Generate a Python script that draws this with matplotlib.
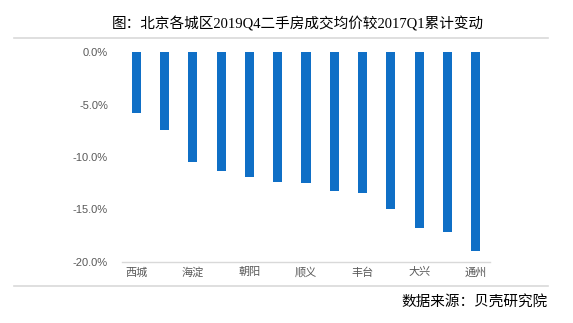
import matplotlib
matplotlib.use("Agg")
import matplotlib.pyplot as plt
from matplotlib.lines import Line2D
from matplotlib.ticker import FuncFormatter

# -- Data --------------------------------------------------------------------
districts = ['西城', '东城', '海淀', '石景山', '朝阳', '昌平', '顺义',
             '房山', '丰台', '门头沟', '大兴', '怀柔', '通州']
change_pct = [-5.8, -7.4, -10.5, -11.3, -11.9, -12.4, -12.5,
              -13.2, -13.4, -15.0, -16.8, -17.2, -19.0]
y_ticks = [0, -5, -10, -15, -20]

title = '图：北京各城区2019Q4二手房成交均价较2017Q1累计变动'
source = '数据来源：贝壳研究院'

# -- Styling -----------------------------------------------------------------
bar_color = '#0f6fc6'
gray_txt = '#595959'
line_gray = '#d9d9d9'
cjk = ['Noto Sans CJK SC', 'DejaVu Sans']

fig = plt.figure(figsize=(5.73, 3.23), dpi=100)
ax = fig.add_axes([122/573, 1 - 261.7/323, 368/573, (261.7 - 52.3)/323])

x = list(range(len(districts)))
ax.bar(x, change_pct, width=0.32, color=bar_color, zorder=2)

ax.set_xlim(-0.5, len(districts) - 0.5)
ax.set_ylim(-20, 0)
ax.set_yticks(y_ticks)
ax.yaxis.set_major_formatter(FuncFormatter(lambda v, p: f'{v:.1f}%'))
ax.set_xticks(x)
ax.set_xticklabels([d if i % 2 == 0 else '' for i, d in enumerate(districts)],
                   family=cjk, fontsize=8, color=gray_txt)
for lab in ax.get_yticklabels():
    lab.set_family(['Liberation Sans', 'DejaVu Sans'])
    lab.set_fontsize(8)
    lab.set_color(gray_txt)

ax.tick_params(axis='y', length=0, pad=10)
ax.tick_params(axis='x', length=0, pad=4)
for s in ['top', 'right', 'left']:
    ax.spines[s].set_visible(False)
ax.spines['bottom'].set_color(line_gray)
ax.spines['bottom'].set_linewidth(1.0)

# -- Title, separator lines and source ----------------------------------------
fig.text(298/573, 1 - 24/323, title, ha='center', va='center', fontsize=10.5,
         family=['Liberation Serif', 'Noto Sans CJK SC'], color='black')
fig.add_artist(Line2D([14/573, 548/573], [1 - 37.5/323] * 2,
                      transform=fig.transFigure, color=line_gray, lw=1.2))
fig.add_artist(Line2D([14/573, 548/573], [1 - 286/323] * 2,
                      transform=fig.transFigure, color=line_gray, lw=1.2))
fig.text(548/573, 1 - 302/323, source, ha='right', va='center', fontsize=10.5,
         family=cjk, color='black')

plt.savefig('out.png', dpi=100)
plt.close()
